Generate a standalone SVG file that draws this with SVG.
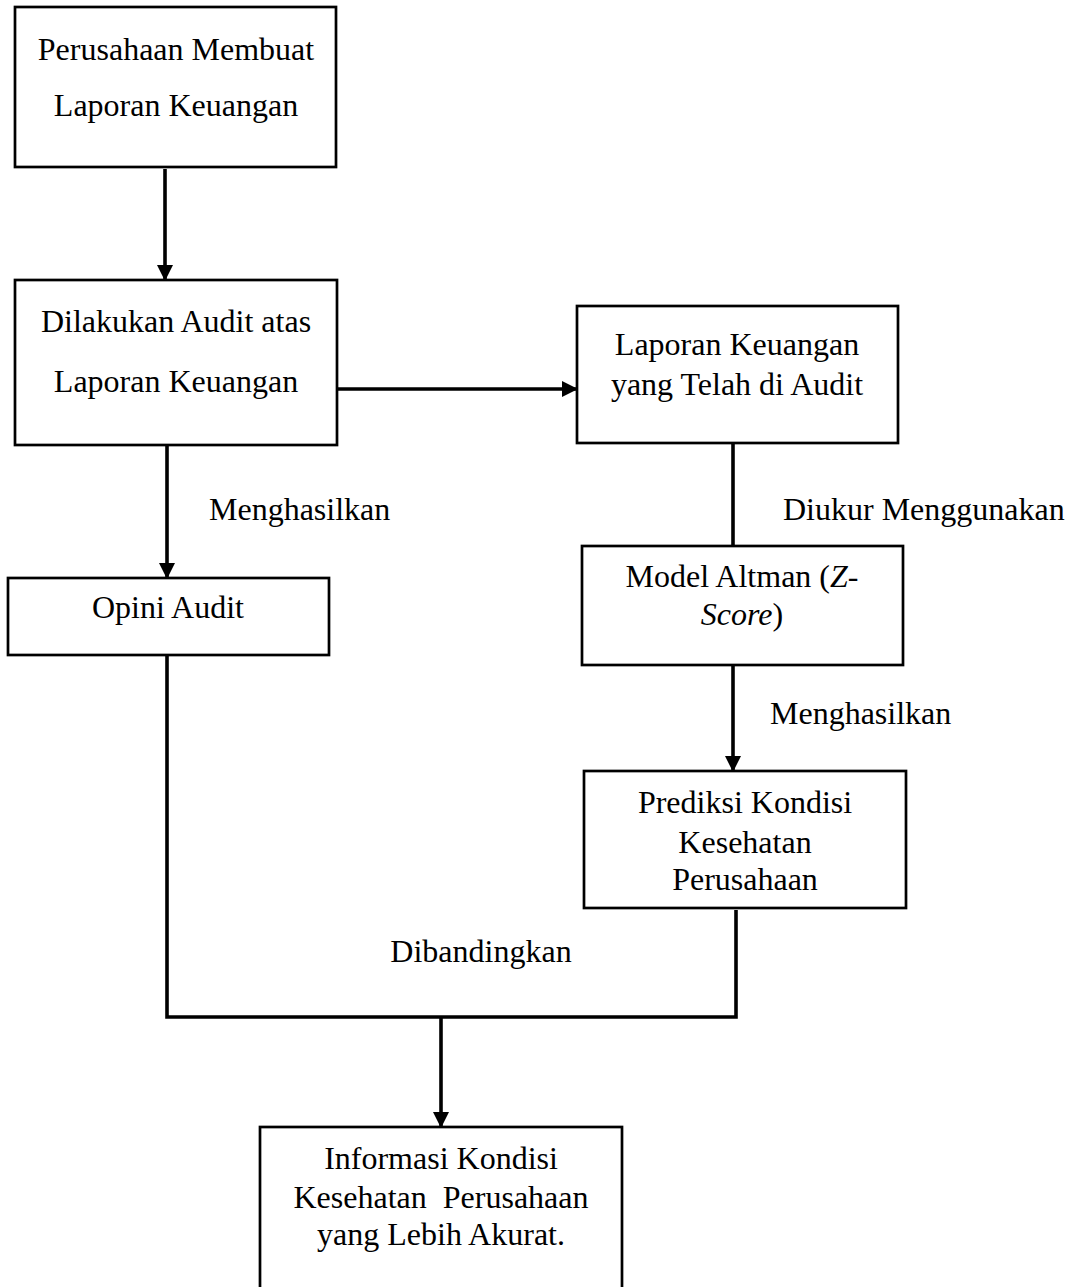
<svg xmlns="http://www.w3.org/2000/svg" width="1072" height="1287" viewBox="0 0 1072 1287">
<defs>
<style>
.box{fill:#fff;stroke:#000;stroke-width:2.7}
.t{font-family:"Liberation Serif","Times New Roman",serif;font-size:32px;fill:#000;text-anchor:middle}
.l{font-family:"Liberation Serif","Times New Roman",serif;font-size:32px;fill:#000}
.c{fill:none;stroke:#000;stroke-width:3.6}
</style>
<marker id="ah" markerUnits="userSpaceOnUse" markerWidth="16" markerHeight="16" refX="15" refY="8" orient="auto">
<path d="M0,0 L16,8 L0,16 z" fill="#000"/>
</marker>
</defs>
<rect width="1072" height="1287" fill="#fff"/>
<g id="connectors">
<line class="c" x1="165" y1="169" x2="165" y2="280" marker-end="url(#ah)"/>
<line class="c" x1="338" y1="389" x2="577" y2="389" marker-end="url(#ah)"/>
<line class="c" x1="167" y1="443" x2="167" y2="578" marker-end="url(#ah)"/>
<line class="c" x1="733" y1="443" x2="733" y2="546"/>
<line class="c" x1="733" y1="665" x2="733" y2="771" marker-end="url(#ah)"/>
<polyline class="c" points="167,656 167,1017 736,1017 736,910"/>
<line class="c" x1="441" y1="1017" x2="441" y2="1127" marker-end="url(#ah)"/>
</g>
<g id="labels">
<text class="l" x="209" y="520">Menghasilkan</text>
<text class="l" x="783" y="520">Diukur Menggunakan</text>
<text class="l" x="770" y="724">Menghasilkan</text>
<text class="t" x="481" y="962">Dibandingkan</text>
</g>
<g id="n1"><rect class="box" x="15" y="7" width="321" height="160"/>
<text class="t" x="176" y="60">Perusahaan Membuat</text>
<text class="t" x="176" y="116">Laporan Keuangan</text></g>
<g id="n2"><rect class="box" x="15" y="280" width="322" height="165"/>
<text class="t" x="176" y="332">Dilakukan Audit atas</text>
<text class="t" x="176" y="392">Laporan Keuangan</text></g>
<g id="n3"><rect class="box" x="577" y="306" width="321" height="137"/>
<text class="t" x="737" y="355">Laporan Keuangan</text>
<text class="t" x="737" y="395">yang Telah di Audit</text></g>
<g id="n4"><rect class="box" x="8" y="578" width="321" height="77"/>
<text class="t" x="168" y="618">Opini Audit</text></g>
<g id="n5"><rect class="box" x="582" y="546" width="321" height="119"/>
<text class="t" x="742" y="587">Model Altman (<tspan font-style="italic">Z</tspan>-</text>
<text class="t" x="742" y="625"><tspan font-style="italic">Score</tspan>)</text></g>
<g id="n6"><rect class="box" x="584" y="771" width="322" height="137"/>
<text class="t" x="745" y="813">Prediksi Kondisi</text>
<text class="t" x="745" y="853">Kesehatan</text>
<text class="t" x="745" y="890">Perusahaan</text></g>
<g id="n7"><rect class="box" x="260" y="1127" width="362" height="180"/>
<text class="t" x="441" y="1169">Informasi Kondisi</text>
<text class="t" x="441" y="1208" xml:space="preserve">Kesehatan  Perusahaan</text>
<text class="t" x="441" y="1245">yang Lebih Akurat.</text></g>
</svg>
